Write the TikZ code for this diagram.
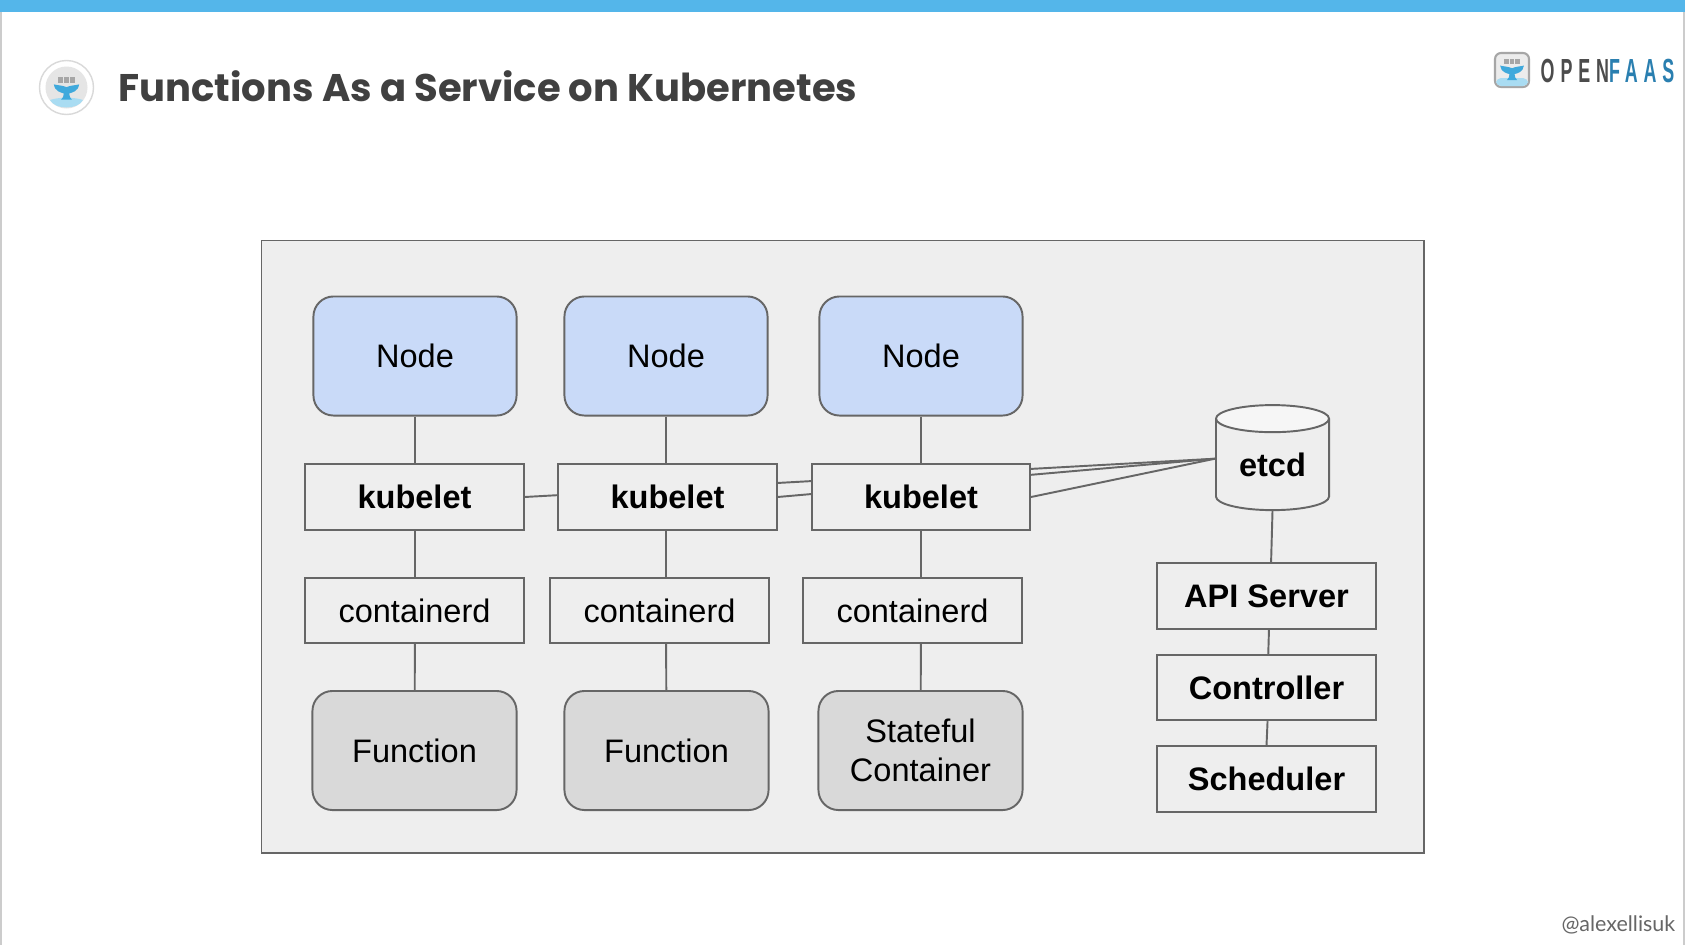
\documentclass[tikz,border=0pt]{standalone}
\usepackage{fontspec}
\setmainfont{Liberation Sans}
\newfontfamily\titlefont{Poppins}
\newfontfamily\handlefont{Lato}
\usetikzlibrary{backgrounds,shapes.geometric}
\definecolor{linegray}{HTML}{666666}
\definecolor{panelgray}{HTML}{EEEEEE}
\definecolor{nodeblue}{HTML}{C9DAF8}
\definecolor{funcgray}{HTML}{D9D9D9}
\definecolor{barblue}{HTML}{54B6EA}
\definecolor{whaleblue}{HTML}{3FA9DC}
\definecolor{brandblue}{HTML}{2A7FB0}
\definecolor{waterblue}{HTML}{A9DCF2}
\tikzset{
  wire/.style={draw=linegray,line width=0.55pt},
  nodebox/.style={wire,rounded corners=0.2cm,fill=nodeblue,minimum width=2.03cm,minimum height=1.19cm,font=\fontsize{9.25}{11}\selectfont},
  funcbox/.style={nodebox,fill=funcgray,align=center,minimum width=2.04cm,minimum height=1.19cm,font=\fontsize{9.25}{11.2}\selectfont},
  flatbox/.style={wire,fill=panelgray,minimum width=2.18cm,minimum height=0.655cm,font=\fontsize{9.25}{11}\selectfont},
  boldbox/.style={flatbox,font=\fontsize{9.25}{11}\selectfont\bfseries},
  whale/.pic={
    \fill[whaleblue] (-14,-4) .. controls (-10,-3) and (-5,-3) .. (0,-1) .. controls (5,-3) and (10,-3) .. (14,-4)
      .. controls (13,4) and (6,5) .. (3,6) .. controls (3,9) and (4,11) .. (6,13) -- (-6,13)
      .. controls (-4,11) and (-3,9) .. (-3,6) .. controls (-6,5) and (-13,4) .. (-14,-4) -- cycle;
    \fill[gray!70] (-9,-12) rectangle (-4,-6);
    \fill[gray!70] (-2.5,-12) rectangle (2.5,-6);
    \fill[gray!70] (4,-12) rectangle (9,-6);
  }
}
\begin{document}
\begin{tikzpicture}[x=0.01cm,y=-0.01cm]
  \useasboundingbox (0,0) rectangle (1685,945);
  % Title and emblem
  \draw[gray!30,fill=white] (66.5,87.5) circle (27);
  \fill[gray!20] (66.5,87.5) circle (21);
  \fill[waterblue] (50,100) .. controls (58,97) and (75,97) .. (83,100) .. controls (78,110) and (55,110) .. (50,100) -- cycle;
  \pic[scale=0.9] at (66.5,88) {whale};
  \node[anchor=west,inner sep=0pt,text=black!75,font=\fontsize{10.95}{14}\selectfont\titlefont\bfseries] (title) at (118,86) {Functions As a Service on Kubernetes};
  % OpenFaaS mark
  \draw[gray!70,fill=gray!15,rounded corners=0.06cm,line width=0.6pt] (1495,53) rectangle (1529,87);
  \fill[waterblue,rounded corners=0.05cm] (1496,78) rectangle (1528,86);
  \pic[scale=0.85] at (1512,69) {whale};
  \node[anchor=west,inner sep=0pt,font=\fontsize{9.5}{11}\selectfont\bfseries] (brand) at (1540,71) {\scalebox{0.535}[1]{\addfontfeature{LetterSpace=33}\textcolor{black!70}{OPEN}\textcolor{brandblue}{FAAS}}};
  \node[anchor=east,inner sep=0pt,text=black!60,font=\fontsize{6.1}{7}\selectfont\handlefont] (handle) at (1676,925) {@alexellisuk};
  % Nodes
  \foreach \i/\x in {1/415,2/666,3/921} {
    \node[nodebox] (node\i) at (\x,356) {Node};
  }
  % Kubelets
  \foreach \i/\x in {1/414.5,2/667.5,3/921} {
    \node[boldbox] (kubelet\i) at (\x,497) {kubelet};
  }
  % Containerd
  \foreach \i/\x in {1/414.5,2/659.5,3/912.5} {
    \node[flatbox] (containerd\i) at (\x,610.5) {containerd};
  }
  % Workloads
  \node[funcbox] (func1) at (414.5,750.5) {Function};
  \node[funcbox] (func2) at (666.5,750.5) {Function};
  \node[funcbox] (func3) at (920.5,750.5) {Stateful\\Container};
  % Control plane
  \node[draw=linegray,line width=0.55pt,cylinder,shape border rotate=90,aspect=0.3,minimum width=1.13cm,minimum height=1.05cm,cylinder uses custom fill,cylinder body fill=panelgray,cylinder end fill=panelgray!50!white,font=\fontsize{9.25}{11}\selectfont\bfseries] (etcd) at (1272.5,469) {\raisebox{1.2pt}[\height][\depth]{etcd}};
  \coordinate (etcdport) at ([yshift=0.103cm]etcd.west);
  \node[boldbox] (api) at (1266.5,596) {API Server};
  \node[boldbox] (controller) at (1266.5,687.5) {Controller};
  \node[boldbox] (scheduler) at (1266.5,779) {Scheduler};
  % Panel and connectors stay behind the boxes
  \begin{scope}[on background layer]
    \fill[white] (0,0) rectangle (1685,945);
    \fill[barblue] (0,0) rectangle (1685,12);
    \draw[gray!40,line width=0.4pt] (1,12) -- (1,945);
    \draw[gray!40,line width=0.4pt] (1684,12) -- (1684,945);
    \draw[wire,fill=panelgray] (261.5,240.5) rectangle (1424,853);
    \foreach \i in {1,2,3} {
      \draw[wire] (node\i) -- (node\i |- kubelet\i);
      \draw[wire] (node\i |- kubelet\i) -- (node\i |- containerd\i);
      \draw[wire] (node\i |- containerd\i) -- (func\i);
      \draw[wire] (kubelet\i.east) -- (etcdport);
    }
    \draw[wire] (etcd.south) -- ([xshift=1.3pt]api.north);
    \draw[wire] ([xshift=0.7pt]api.south) -- ([xshift=0.5pt]controller.north);
    \draw[wire] ([xshift=0.3pt]controller.south) -- (scheduler.north);
  \end{scope}
\end{tikzpicture}
\end{document}
